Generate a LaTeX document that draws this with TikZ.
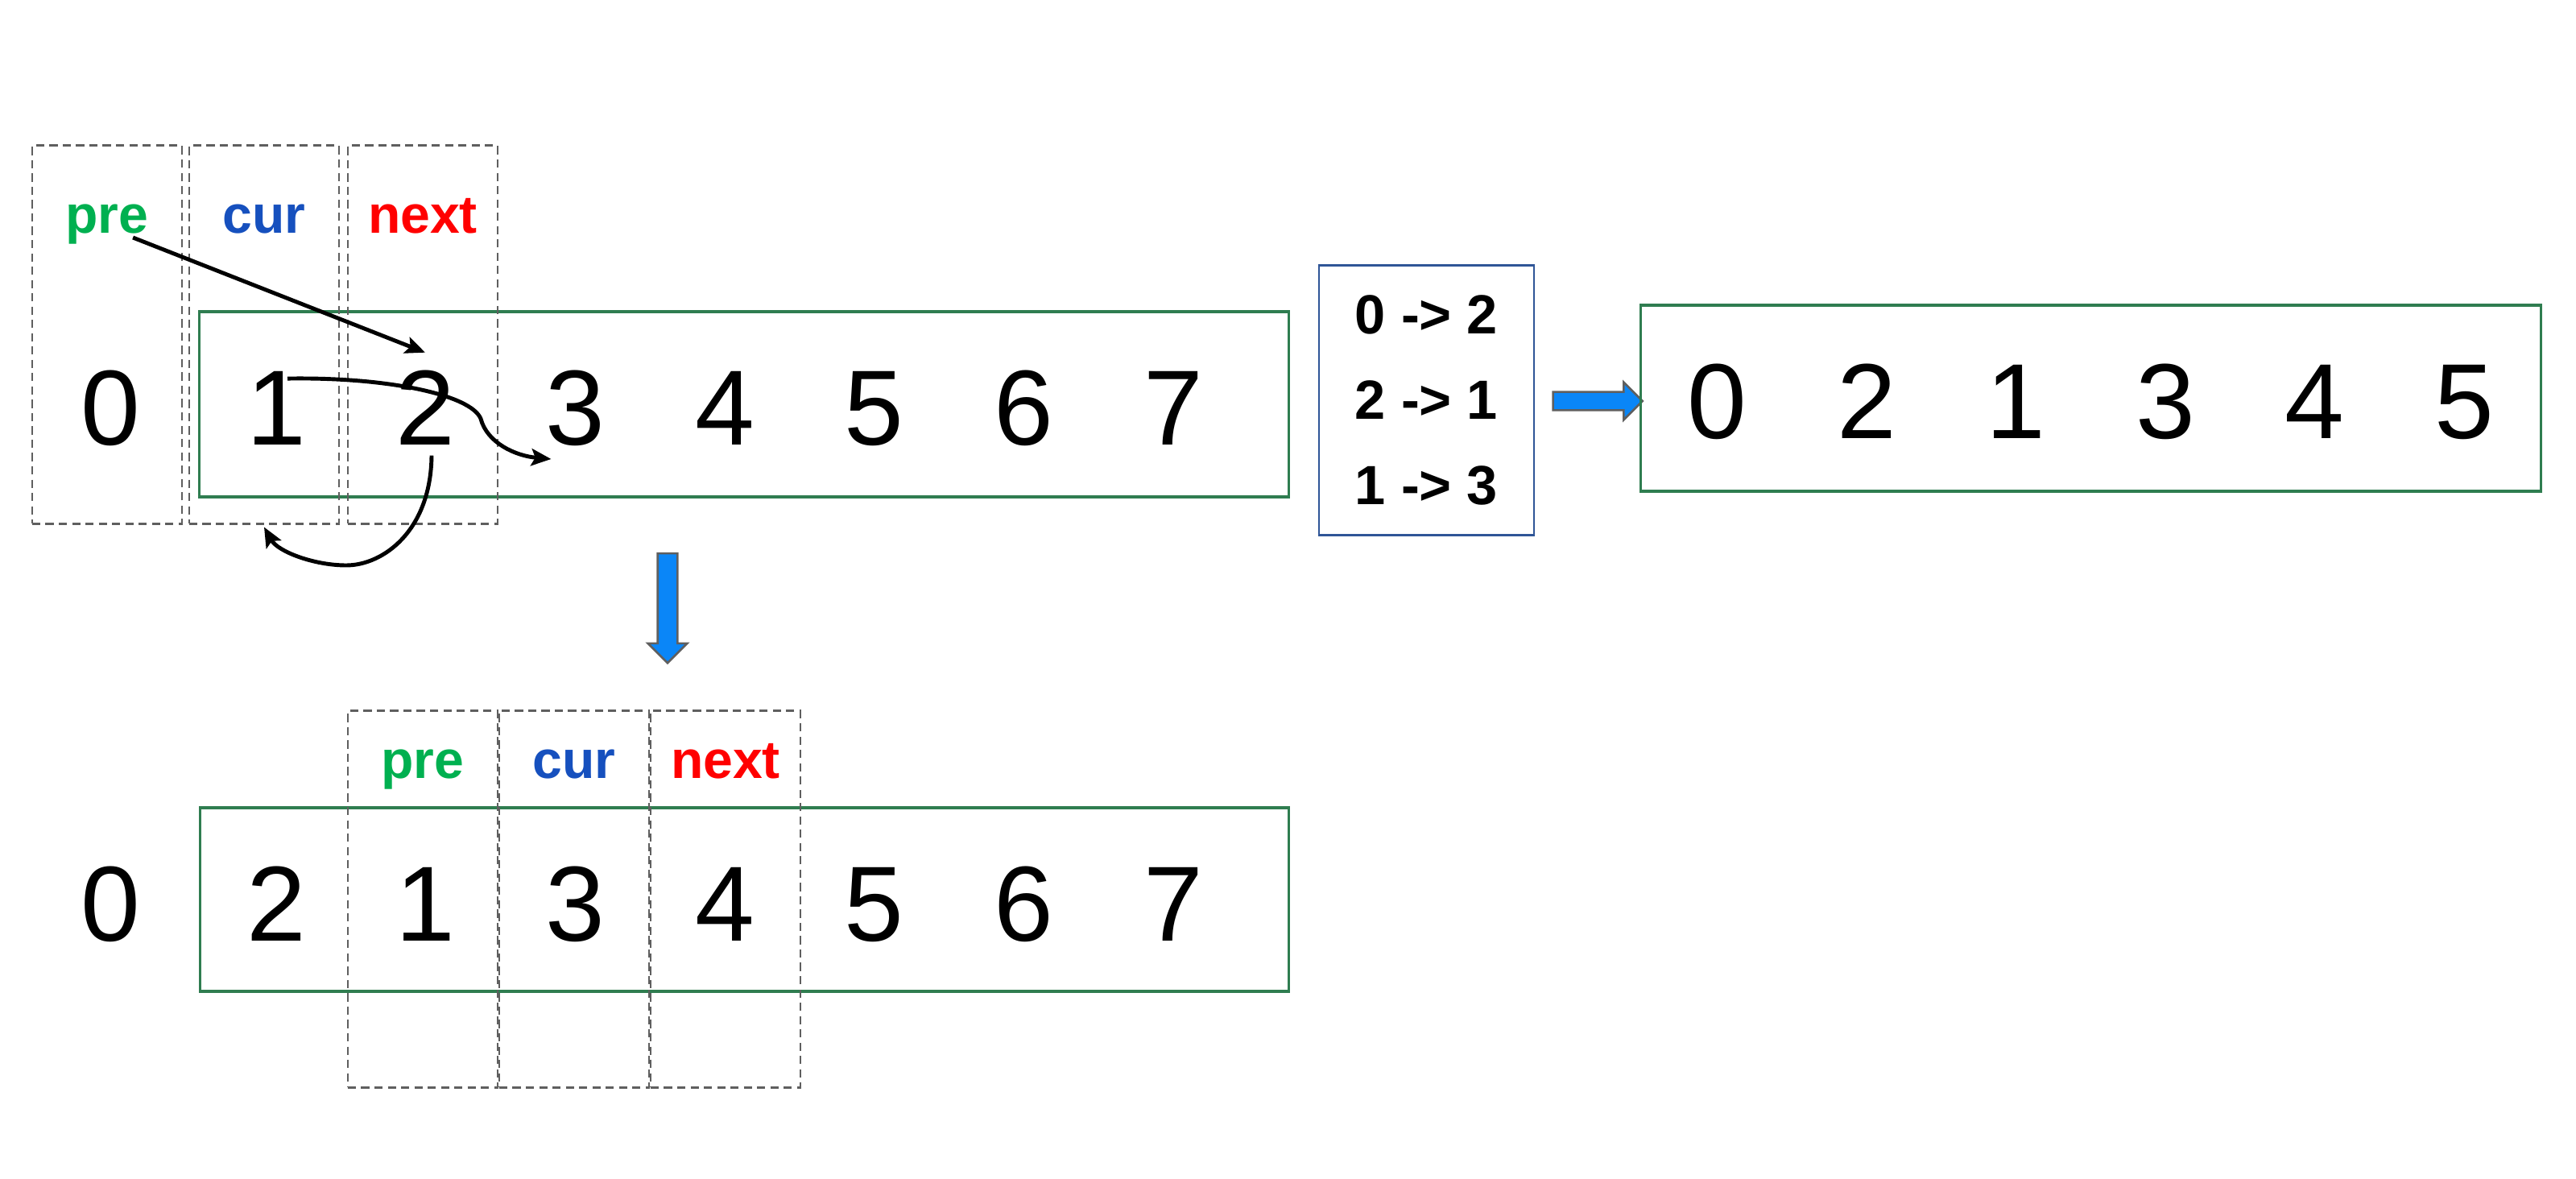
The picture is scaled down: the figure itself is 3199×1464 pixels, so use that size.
\documentclass[tikz,border=0pt]{standalone}
\usepackage{fontspec}
\setmainfont{Liberation Sans}
\usetikzlibrary{arrows.meta,shapes.arrows}
\definecolor{preGreen}{HTML}{00B050}
\definecolor{curBlue}{HTML}{1650BE}
\definecolor{nextRed}{HTML}{FF0000}
\definecolor{listGreen}{HTML}{2F7D50}
\definecolor{ruleBlue}{HTML}{2F5597}
\definecolor{boxGray}{HTML}{5F5F5F}
\definecolor{arrowBlue}{HTML}{0A86F7}
\tikzset{
    digit/.style={anchor=base, inner sep=0pt, font=\fontsize{37.7}{40}\selectfont},
    ptrlabel/.style={anchor=base, inner sep=0pt, font=\fontsize{18.8}{20}\selectfont\bfseries},
    ptrbox/.style={draw=boxGray, line width=0.8pt, dash pattern=on 2.9pt off 1.8pt,
        minimum width=1.86cm, minimum height=4.69cm, inner sep=0pt},
    listbox/.style={draw=listGreen, line width=0.9pt, inner sep=0pt},
    link/.style={black, line width=1.4pt, -{Stealth[length=7pt,width=6pt,inset=1.4pt]}},
    bigarrow/.style={single arrow, fill=arrowBlue, draw=boxGray, line width=0.75pt,
        inner sep=0.1cm, single arrow head extend=0.12cm}
}
\begin{document}
\begin{tikzpicture}[x=0.01cm, y=-0.01cm]
    \useasboundingbox (0,0) rectangle (3199,1464);
    % top row
    \node[listbox, minimum width=13.52cm, minimum height=2.30cm] (toplist) at (924,502) {};
    \node[ptrbox] (ppre) at (133,415.5) {};
    \node[ptrbox] (pcur) at (328,415.5) {};
    \node[ptrbox] (pnext) at (525,415.5) {};
    \node[ptrlabel, text=preGreen] (lpre) at (133,290) {pre};
    \node[ptrlabel, text=curBlue] (lcur) at (328,290) {cur};
    \node[ptrlabel, text=nextRed] (lnext) at (525,290) {next};
    \node[digit] (t0) at (137,553) {0};
    \node[digit] (t1) at (343,553) {1};
    \node[digit] (t2) at (528,553) {2};
    \node[digit] (t3) at (714,553) {3};
    \node[digit] (t4) at (900,553) {4};
    \node[digit] (t5) at (1085,553) {5};
    \node[digit] (t6) at (1271,553) {6};
    \node[digit] (t7) at (1457,553) {7};
    \draw[link] ([xshift=-0.2cm,yshift=-0.05cm]lpre.base east) -- ([yshift=0.22cm]t2.north);
    \draw[link] ([xshift=0.14cm,yshift=-0.09cm]t1.north) .. controls (480,468) and (585,490) .. (597,520)
        .. controls (605,550) and (640,566) .. ([xshift=0.08cm,yshift=-0.17cm]t3.base west);
    \draw[link] ([xshift=0.08cm,yshift=-0.12cm]t2.south) .. controls (535,660) and (475,702) .. (430,702)
        .. controls (390,702) and (345,685) .. ([yshift=-0.03cm]pcur.south);
    % rules and result
    \node[draw=ruleBlue, line width=0.7pt, minimum width=2.67cm, minimum height=3.35cm, align=center,
        font=\fontsize{19.5}{30.2}\selectfont\bfseries] (rules) at (1771.5,497) {0 -> 2\\2 -> 1\\1 -> 3};
    \node[bigarrow, minimum height=1.11cm] (goright) at (1978.5,498) {};
    \node[listbox, minimum width=11.17cm, minimum height=2.31cm] (result) at (2596.5,494.5) {};
    \node[digit] (r0) at (2132,545) {0};
    \node[digit] (r1) at (2318,545) {2};
    \node[digit] (r2) at (2503,545) {1};
    \node[digit] (r3) at (2689,545) {3};
    \node[digit] (r4) at (2874,545) {4};
    \node[digit] (r5) at (3060,545) {5};
    % bottom row
    \node[bigarrow, minimum height=1.36cm, inner sep=0.11cm, rotate=-90] (godown) at (829,749) {};
    \node[listbox, minimum width=13.51cm, minimum height=2.28cm] (botlist) at (924.5,1117) {};
    \node[ptrbox, minimum height=4.67cm] (qpre) at (525,1116.5) {};
    \node[ptrbox, minimum height=4.67cm] (qcur) at (713,1116.5) {};
    \node[ptrbox, minimum height=4.67cm] (qnext) at (901,1116.5) {};
    \node[ptrlabel, text=preGreen] (mpre) at (525,966) {pre};
    \node[ptrlabel, text=curBlue] (mcur) at (713,966) {cur};
    \node[ptrlabel, text=nextRed] (mnext) at (901,966) {next};
    \node[digit] (b0) at (137,1168) {0};
    \node[digit] (b1) at (343,1168) {2};
    \node[digit] (b2) at (528,1168) {1};
    \node[digit] (b3) at (714,1168) {3};
    \node[digit] (b4) at (900,1168) {4};
    \node[digit] (b5) at (1085,1168) {5};
    \node[digit] (b6) at (1271,1168) {6};
    \node[digit] (b7) at (1457,1168) {7};
\end{tikzpicture}
\end{document}
